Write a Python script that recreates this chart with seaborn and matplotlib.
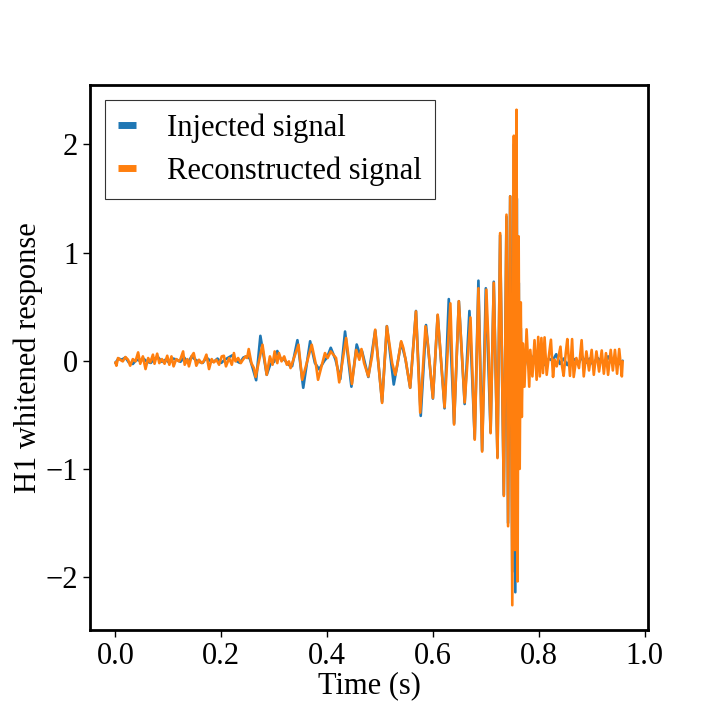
"""
Injected vs reconstructed whitened strain in the H1 detector.
"""

import matplotlib
matplotlib.use("Agg")
import matplotlib.pyplot as plt
import seaborn as sns

# Injected signal (time in s, whitened response)
injected_time = [
    0.000, 0.006, 0.012, 0.019, 0.026, 0.033, 0.040, 0.046, 0.053, 0.060,
    0.067, 0.074, 0.081, 0.088, 0.095, 0.102, 0.109, 0.116, 0.123, 0.130,
    0.137, 0.144, 0.151, 0.158, 0.165, 0.172, 0.179, 0.186, 0.193, 0.200,
    0.207, 0.214, 0.221, 0.228, 0.235, 0.242, 0.248, 0.254, 0.259, 0.266,
    0.274, 0.286, 0.293, 0.300, 0.306, 0.312, 0.319, 0.328, 0.334, 0.344,
    0.355, 0.368, 0.377, 0.385, 0.395, 0.400, 0.407, 0.416, 0.425, 0.434,
    0.446, 0.456, 0.462, 0.466, 0.478, 0.491, 0.504, 0.513, 0.526, 0.533,
    0.540, 0.548, 0.557, 0.568, 0.577, 0.587, 0.600, 0.609, 0.622, 0.630,
    0.640, 0.649, 0.660, 0.669, 0.679, 0.686, 0.693, 0.700, 0.709, 0.715,
    0.722, 0.727, 0.734, 0.739, 0.742, 0.746, 0.750, 0.753, 0.7557, 0.7585,
    0.7605, 0.7622, 0.764, 0.766, 0.768, 0.770, 0.773, 0.777, 0.784, 0.791,
    0.798, 0.805, 0.812, 0.819, 0.826, 0.833, 0.840, 0.847, 0.854, 0.861,
    0.868, 0.875, 0.882, 0.889, 0.896, 0.903, 0.910, 0.917, 0.924, 0.931,
    0.938, 0.945, 0.952, 0.9585,
]
injected_value = [
    -0.02, 0.02, 0.01, 0.03, -0.02, -0.03, 0.01, 0.00, 0.02, -0.01,
    -0.02, 0.02, 0.03, -0.01, 0.01, -0.02, 0.02, 0.01, -0.01, 0.03,
    -0.02, 0.04, 0.01, -0.01, -0.02, 0.03, 0.00, -0.01, 0.02, -0.02,
    0.01, 0.03, 0.05, 0.00, -0.02, 0.03, 0.04, 0.02, -0.06, -0.18,
    0.23, -0.13, -0.03, -0.01, 0.09, 0.02, 0.01, -0.04, -0.05, 0.19,
    -0.25, 0.18, -0.02, -0.08, 0.00, 0.03, 0.12, 0.01, -0.17, 0.27,
    -0.24, 0.15, 0.06, 0.09, -0.15, 0.28, -0.38, 0.32, -0.22, -0.03,
    0.17, 0.02, -0.25, 0.46, -0.51, 0.33, -0.35, 0.42, -0.44, 0.57,
    -0.58, 0.55, -0.40, 0.46, -0.72, 0.74, -0.83, 0.67, -0.66, 0.73,
    -0.89, 1.16, -1.24, 1.33, -1.50, 1.52, -1.95, 2.00, -2.14, 1.50,
    -0.90, 0.72, -0.50, 0.30, -0.18, 0.10, -0.06, 0.04, -0.03, 0.05,
    -0.02, 0.03, -0.04, 0.02, 0.00, 0.06, -0.03, 0.02, -0.04, 0.03,
    0.01, -0.03, 0.04, -0.02, 0.02, -0.04, 0.03, 0.00, -0.03, 0.04,
    -0.02, 0.02, -0.03, 0.00,
]

# Reconstructed signal
reconstructed_time = [
    0.000, 0.002, 0.005, 0.009, 0.014, 0.019, 0.024, 0.028, 0.033, 0.038,
    0.043, 0.047, 0.052, 0.057, 0.062, 0.066, 0.071, 0.074, 0.079, 0.083,
    0.088, 0.093, 0.098, 0.102, 0.106, 0.110, 0.115, 0.120, 0.123, 0.128,
    0.131, 0.136, 0.139, 0.144, 0.148, 0.153, 0.158, 0.163, 0.167, 0.172,
    0.177, 0.182, 0.186, 0.191, 0.196, 0.201, 0.205, 0.209, 0.215, 0.220,
    0.224, 0.227, 0.232, 0.237, 0.241, 0.246, 0.249, 0.252, 0.257, 0.262,
    0.265, 0.278, 0.286, 0.292, 0.297, 0.301, 0.306, 0.309, 0.314, 0.319,
    0.324, 0.328, 0.331, 0.346, 0.353, 0.371, 0.379, 0.383, 0.391, 0.396,
    0.401, 0.407, 0.412, 0.417, 0.423, 0.436, 0.447, 0.455, 0.461, 0.465,
    0.470, 0.478, 0.485, 0.491, 0.504, 0.513, 0.523, 0.529, 0.533, 0.540,
    0.544, 0.549, 0.552, 0.557, 0.568, 0.576, 0.586, 0.590, 0.600, 0.609,
    0.622, 0.633, 0.640, 0.649, 0.660, 0.671, 0.679, 0.686, 0.693, 0.701,
    0.705, 0.709, 0.715, 0.722, 0.727, 0.734, 0.739, 0.742, 0.746, 0.750,
    0.753, 0.755, 0.758, 0.760, 0.762, 0.764, 0.766, 0.768, 0.770, 0.773,
    0.777, 0.782, 0.784, 0.788, 0.792, 0.796, 0.799, 0.802, 0.805, 0.808,
    0.811, 0.815, 0.819, 0.823, 0.827, 0.830, 0.834, 0.837, 0.841, 0.844,
    0.847, 0.851, 0.854, 0.859, 0.863, 0.866, 0.871, 0.876, 0.881, 0.885,
    0.890, 0.895, 0.900, 0.904, 0.909, 0.914, 0.919, 0.923, 0.927, 0.931,
    0.936, 0.940, 0.944, 0.948, 0.952, 0.957, 0.9585,
]
reconstructed_value = [
    -0.015, -0.046, 0.025, 0.009, -0.006, 0.034, 0.009, -0.046, 0.015, -0.006,
    0.077, -0.028, 0.040, -0.077, 0.025, -0.015, 0.056, -0.028, 0.065, -0.022,
    0.015, -0.028, 0.046, -0.037, 0.040, -0.052, 0.015, -0.006, 0.015, 0.086,
    -0.037, 0.015, -0.052, 0.040, 0.071, -0.046, 0.009, -0.022, -0.006, 0.056,
    -0.077, 0.015, -0.015, 0.009, -0.037, 0.040, 0.046, -0.052, 0.025, -0.037,
    0.071, -0.006, 0.025, -0.022, 0.009, 0.040, 0.025, 0.108, -0.022, -0.070,
    -0.150, 0.148, -0.130, 0.040, -0.037, 0.086, -0.022, 0.071, -0.006, 0.040,
    -0.037, -0.006, -0.068, 0.148, -0.176, 0.148, -0.037, -0.176, -0.022, 0.071,
    0.025, 0.086, 0.056, 0.025, -0.200, 0.210, -0.215, 0.100, 0.009, 0.108,
    -0.022, -0.145, 0.040, 0.287, -0.390, 0.318, -0.022, -0.130, -0.030, 0.180,
    0.120, -0.006, -0.100, -0.250, 0.456, -0.480, 0.318, 0.180, -0.345, 0.426,
    -0.430, 0.530, -0.590, 0.550, -0.386, 0.400, -0.730, 0.670, -0.840, 0.657,
    0.160, -0.670, 0.720, -0.900, 1.180, -1.250, 1.350, -1.530, 1.520, -2.260,
    2.080, -1.750, 2.320, -2.040, 1.150, -1.000, 0.540, -0.520, 0.160, -0.240,
    0.290, -0.240, 0.100, -0.145, 0.190, -0.176, 0.220, -0.145, 0.210, -0.114,
    0.216, -0.130, 0.040, 0.194, -0.150, 0.009, -0.052, 0.025, 0.130, -0.050,
    -0.140, 0.070, 0.200, -0.140, 0.200, -0.150, 0.025, -0.068, 0.190, -0.145,
    0.086, -0.090, 0.100, -0.130, 0.086, -0.100, 0.095, -0.120, 0.070, -0.130,
    0.100, -0.090, 0.100, -0.120, 0.108, -0.145, -0.006,
]

sns.set_style("ticks")
plt.rcParams['font.family'] = ['Liberation Serif', 'DejaVu Serif']
plt.rcParams['mathtext.fontset'] = 'stix'
plt.rcParams['font.size'] = 22
plt.rcParams['text.color'] = 'black'
plt.rcParams['axes.labelcolor'] = 'black'
plt.rcParams['xtick.color'] = 'black'
plt.rcParams['ytick.color'] = 'black'

fig, ax = plt.subplots(figsize=(7.2, 7.2), dpi=100)
fig.subplots_adjust(left=0.125, right=0.9, bottom=0.125, top=0.882)

palette = sns.color_palette("tab10")

sns.lineplot(x=injected_time, y=injected_value, ax=ax, color=palette[0],
             linewidth=1.9, sort=False, estimator=None, label='Injected signal')
sns.lineplot(x=reconstructed_time, y=reconstructed_value, ax=ax, color=palette[1],
             linewidth=1.9, sort=False, estimator=None, label='Reconstructed signal')

ax.set_xticks([0.0, 0.2, 0.4, 0.6, 0.8, 1.0])
ax.set_yticks([-2, -1, 0, 1, 2])
ax.set_xlabel('Time (s)', fontsize=22, labelpad=0)
ax.set_ylabel('H1 whitened response', fontsize=22, labelpad=2)
ax.tick_params(axis='both', labelsize=22, length=5, width=1, colors='black',
               direction='out')

for spine in ax.spines.values():
    spine.set_linewidth(2)
    spine.set_color('black')

# Legend with short, thick, square-ended handles
leg = ax.legend(loc='upper left', fontsize=22, handlelength=0.6,
                handletextpad=1.0, borderpad=0.42, labelspacing=0.45,
                borderaxespad=0.5, fancybox=False, framealpha=1,
                edgecolor='0.2')
leg.get_frame().set_linewidth(0.8)
for line in leg.get_lines():
    line.set_linewidth(5)
    line.set_solid_capstyle('butt')

plt.savefig('out.png', dpi=100)
plt.close()
